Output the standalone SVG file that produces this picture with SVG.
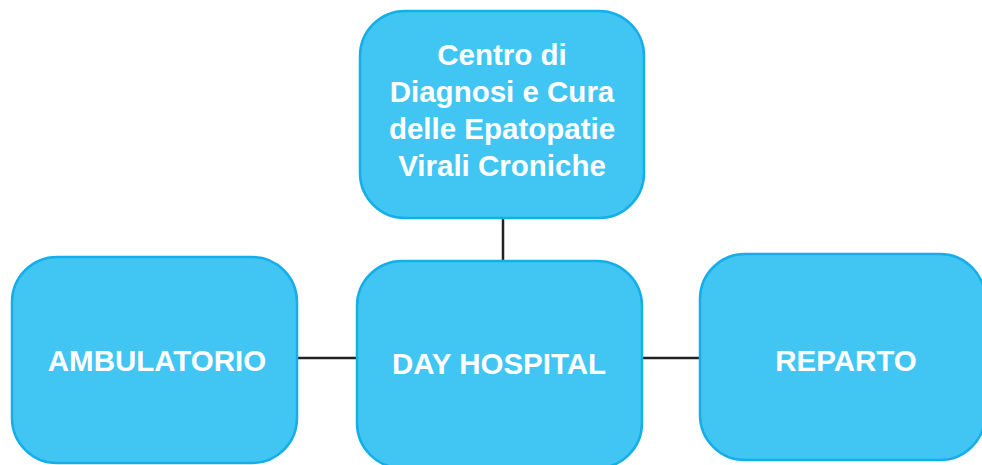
<svg xmlns="http://www.w3.org/2000/svg" width="982" height="465" viewBox="0 0 982 465">
<style>
.box{fill:#41C6F4;stroke:#16AEE9;stroke-width:2.5}
.t{fill:#fff;font-family:"Liberation Sans",Arial,sans-serif;font-weight:bold;font-size:29.5px;text-anchor:middle}
.c{stroke:#222;stroke-width:2.5;fill:none}
</style>
<rect width="982" height="465" fill="#fff"/>
<g id="connectors">
<line class="c" x1="503" y1="218" x2="503" y2="262"/>
<line class="c" x1="297" y1="358" x2="358" y2="358"/>
<line class="c" x1="642" y1="358" x2="701" y2="358"/>
</g>
<g id="centro">
<rect class="box" x="360" y="11" width="284" height="207" rx="45"/>
<text class="t" x="502" y="65">Centro di</text>
<text class="t" x="502" y="102">Diagnosi e Cura</text>
<text class="t" x="502" y="139">delle Epatopatie</text>
<text class="t" x="502" y="176">Virali Croniche</text>
</g>
<g id="ambulatorio">
<rect class="box" x="12" y="257" width="285" height="206" rx="45"/>
<text class="t" x="157" y="371">AMBULATORIO</text>
</g>
<g id="dayhospital">
<rect class="box" x="357" y="261" width="285" height="207" rx="45"/>
<text class="t" x="499" y="374">DAY HOSPITAL</text>
</g>
<g id="reparto">
<rect class="box" x="700" y="254" width="285" height="206" rx="45"/>
<text class="t" x="846" y="371">REPARTO</text>
</g>
</svg>
